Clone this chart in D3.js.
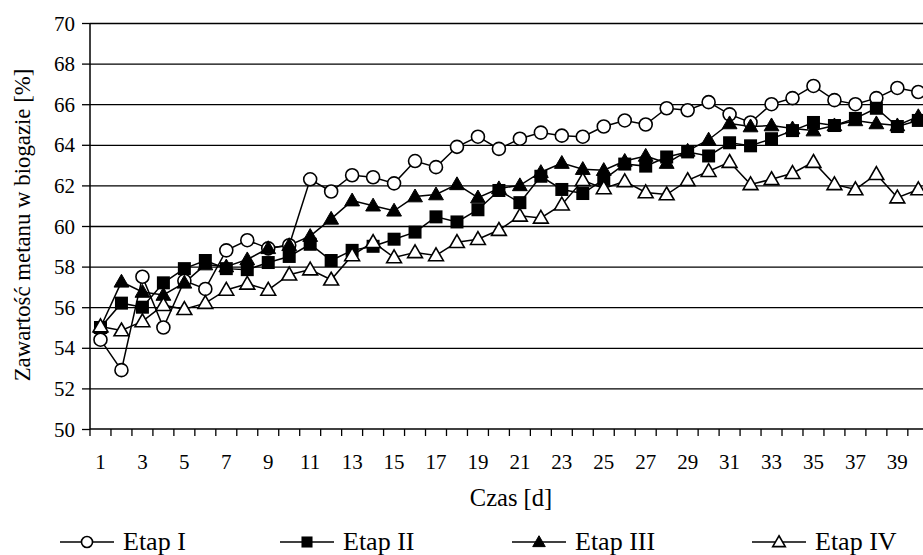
<!DOCTYPE html>
<html>
<head>
<meta charset="utf-8">
<script src="https://cdn.jsdelivr.net/npm/d3@7"></script>
<style>
  body { margin: 0; background: #fff; }
  svg text { font-family: "Liberation Serif", "Times New Roman", serif; fill: #000; }
</style>
</head>
<body>
<div id="chart-area"></div>
<script>
// Data (day 40 is partly cut at the right edge)
var days = d3.range(1, 41);
var etap1 = [54.4, 52.9, 57.5, 55.0, 57.3, 56.9, 58.8, 59.3, 58.9, 59.05,
             62.3, 61.7, 62.5, 62.4, 62.1, 63.2, 62.9, 63.9, 64.4, 63.8,
             64.3, 64.6, 64.45, 64.4, 64.9, 65.2, 65.0, 65.8, 65.7, 66.1,
             65.5, 65.1, 66.0, 66.3, 66.9, 66.2, 66.0, 66.3, 66.8, 66.6];
var etap2 = [55.0, 56.2, 56.0, 57.2, 57.9, 58.3, 57.9, 57.85, 58.2, 58.5,
             59.1, 58.3, 58.8, 59.0, 59.35, 59.7, 60.45, 60.2, 60.8, 61.75,
             61.15, 62.45, 61.8, 61.6, 62.3, 63.05, 62.95, 63.4, 63.65, 63.45,
             64.1, 63.95, 64.3, 64.7, 65.1, 64.95, 65.3, 65.8, 64.9, 65.2];
var etap3 = [55.0, 57.25, 56.75, 56.6, 57.2, 58.1, 58.0, 58.35, 58.9, 59.05,
             59.5, 60.35, 61.25, 61.0, 60.75, 61.45, 61.55, 62.05, 61.4, 61.85,
             62.0, 62.65, 63.1, 62.8, 62.75, 63.2, 63.45, 63.1, 63.7, 64.25,
             65.05, 64.9, 64.95, 64.8, 64.7, 64.95, 65.2, 65.05, 64.95, 65.4];
var etap4 = [55.05, 54.85, 55.3, 56.1, 55.9, 56.2, 56.85, 57.15, 56.85, 57.6,
             57.85, 57.35, 58.55, 59.2, 58.45, 58.7, 58.55, 59.2, 59.35, 59.8,
             60.5, 60.4, 61.05, 62.25, 61.85, 62.2, 61.65, 61.55, 62.25, 62.7,
             63.15, 62.05, 62.3, 62.6, 63.15, 62.05, 61.8, 62.55, 61.4, 61.8];
var seriesNames = ["Etap I", "Etap II", "Etap III", "Etap IV"];
var seriesValues = [etap1, etap2, etap3, etap4];
var yTicks = d3.range(50, 71, 2);
var xTickLabels = d3.range(1, 40, 2);

var svgWidth = 923, svgHeight = 555;
var margin = { left: 90, top: 23 };
var bandW = 20.97;
var width = days.length * bandW,
    height = 406;

var svg = d3.select("#chart-area").append("svg")
    .attr("width", svgWidth)
    .attr("height", svgHeight);

var g = svg.append("g").attr("transform", "translate(" + margin.left + ", " + margin.top + ")");

var x = d3.scaleBand().domain(days).range([0, width]);
var y = d3.scaleLinear().domain([50, 70]).range([height, 0]);

// gridlines
g.append("g")
    .attr("class", "grid")
    .call(d3.axisLeft(y).tickValues(yTicks.slice(1)).tickSize(-width).tickFormat(""))
    .call(function(s) {
        s.select(".domain").remove();
        s.selectAll("line").attr("stroke", "#000").attr("stroke-width", 1.3);
    });

// Y axis
var leftAxis = d3.axisLeft(y).tickValues(yTicks).tickSize(8).tickPadding(7);
g.append("g")
    .attr("class", "y axis")
    .call(leftAxis)
    .call(function(s) {
        s.select(".domain").attr("d", "M0," + height + "V0").attr("stroke-width", 1.5);
        s.selectAll("line").attr("stroke-width", 1.3);
        s.selectAll("text").attr("font-size", "21px").attr("font-family", "Liberation Serif").attr("dy", "0.34em");
    });

// X axis: ticks on band boundaries, labels on odd days
var xAxis = g.append("g").attr("class", "x axis").attr("transform", "translate(0," + height + ")");
xAxis.append("line")
    .attr("x1", 0).attr("x2", width)
    .attr("stroke", "#000").attr("stroke-width", 1.5);
xAxis.selectAll(".tick-mark")
    .data(days.concat([days.length + 1]))
    .enter().append("line")
    .attr("class", "tick-mark")
    .attr("x1", function(d) { return d <= days.length ? x(d) : width; })
    .attr("x2", function(d) { return d <= days.length ? x(d) : width; })
    .attr("y1", 0).attr("y2", 7)
    .attr("stroke", "#000").attr("stroke-width", 1.3);
xAxis.selectAll(".tick-label")
    .data(xTickLabels)
    .enter().append("text")
    .attr("class", "tick-label")
    .attr("x", function(d) { return x(d) + x.bandwidth() / 2; })
    .attr("y", 40)
    .attr("text-anchor", "middle")
    .attr("font-size", "21px")
    .text(function(d) { return d; });

// Axis titles
g.append("text")
    .attr("x", 421)
    .attr("y", height + 77)
    .attr("text-anchor", "middle")
    .attr("font-size", "24.5px")
    .text("Czas [d]");

g.append("text")
    .attr("x", -(height / 2) + 1)
    .attr("y", -60)
    .attr("font-size", "22.8px")
    .attr("text-anchor", "middle")
    .attr("transform", "rotate(-90)")
    .text("Zawartość metanu w biogazie [%]");

// Markers
function drawMarker(sel, i, cx, cy, scale) {
    scale = scale || 1;
    if (i === 0) {
        sel.append("circle").attr("cx", cx).attr("cy", cy).attr("r", 6.5 * scale)
            .attr("fill", "#fff").attr("stroke", "#000").attr("stroke-width", 1.6);
    } else if (i === 1) {
        var s = 13 * scale;
        sel.append("rect").attr("x", cx - s / 2).attr("y", cy - s / 2).attr("width", s).attr("height", s)
            .attr("fill", "#000");
    } else {
        sel.append("path")
            .attr("d", d3.symbol().type(d3.symbolTriangle).size(95 * scale * scale)())
            .attr("transform", "translate(" + cx + "," + (cy + 1) + ")")
            .attr("fill", i === 2 ? "#000" : "#fff")
            .attr("stroke", "#000").attr("stroke-width", i === 2 ? 1 : 1.6);
    }
}

var line = d3.line()
    .x(function(d, i) { return x(days[i]) + x.bandwidth() / 2; })
    .y(function(d) { return y(d); });

var plot = g.append("g").attr("class", "series");
seriesValues.forEach(function(vals, i) {
    plot.append("path")
        .datum(vals)
        .attr("fill", "none")
        .attr("stroke", "#000")
        .attr("stroke-width", 1.5)
        .attr("d", line);
});
seriesValues.forEach(function(vals, i) {
    var mg = plot.append("g");
    vals.forEach(function(v, j) {
        drawMarker(mg, i, x(days[j]) + x.bandwidth() / 2, y(v));
    });
});

// Legend
var legendX = [60, 280, 512, 752];
var legend = svg.append("g").attr("class", "legend");
seriesNames.forEach(function(name, i) {
    var row = legend.append("g").attr("transform", "translate(" + legendX[i] + ", 542)");
    row.append("line").attr("x1", 0).attr("x2", 54).attr("y1", 0).attr("y2", 0)
        .attr("stroke", "#000").attr("stroke-width", 1.5);
    drawMarker(row, i, 27, 0, 0.85);
    row.append("text")
        .attr("x", 63)
        .attr("y", 8)
        .attr("font-size", "26px")
        .text(name);
});
</script>
</body>
</html>
